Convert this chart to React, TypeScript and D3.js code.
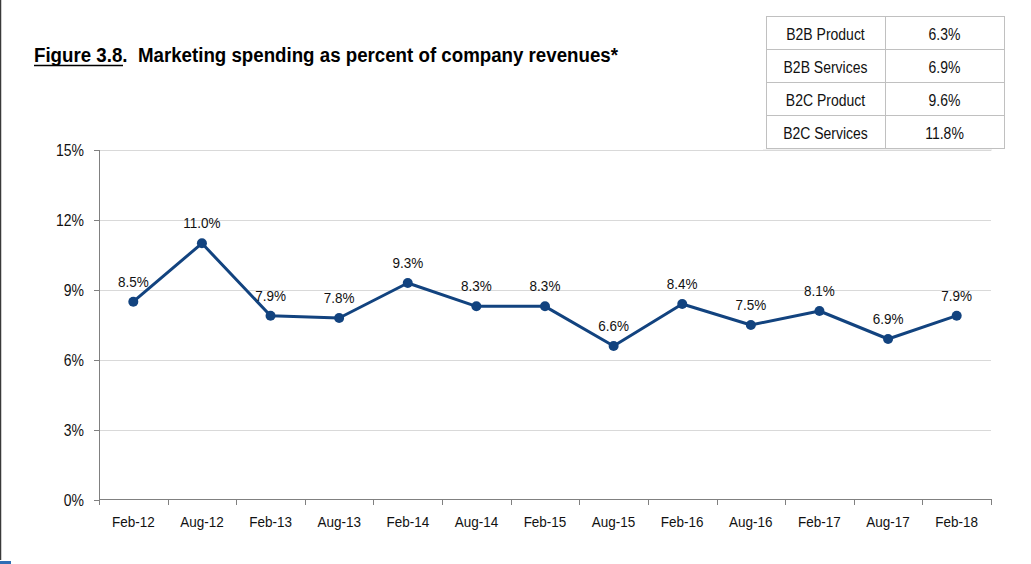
import React from "react";
import * as d3 from "d3";

const categories = ["Feb-12", "Aug-12", "Feb-13", "Aug-13", "Feb-14", "Aug-14", "Feb-15", "Aug-15", "Feb-16", "Aug-16", "Feb-17", "Aug-17", "Feb-18"];
const values = [8.5, 11.0, 7.9, 7.8, 9.3, 8.3, 8.3, 6.6, 8.4, 7.5, 8.1, 6.9, 7.9];
const yTicks = [0, 3, 6, 9, 12, 15];
const tableLabels = ["B2B Product", "B2B Services", "B2C Product", "B2C Services"];
const tableValues = ["6.3%", "6.9%", "9.6%", "11.8%"];
const titleText = "Figure 3.8.  Marketing spending as percent of company revenues*";

const W = 1031;
const H = 564;
const left = 99;
const right = 991;
const top = 150;
const bottom = 500;
const lineColor = "#12437f";
const font = "Arial, 'Liberation Sans', sans-serif";

function T({ x, y, size = 13.5, anchor = "middle", sy = 1.13, children }: any) {
  return (
    <text transform={`translate(${x},${y}) scale(1,${sy})`} fontSize={size} textAnchor={anchor} fill="#111">
      {children}
    </text>
  );
}

export default function App() {
  const x = d3.scaleBand<string>().domain(categories).range([left, right]);
  const y = d3.scaleLinear().domain([0, 15]).range([bottom, top]);
  const cx = (c: string) => (x(c) as number) + x.bandwidth() / 2;
  const line = d3
    .line<number>()
    .x((_, i) => cx(categories[i]))
    .y((d) => y(d));

  const tx0 = 766, tx1 = 885, tx2 = 1004, ty0 = 16, rowH = 33;

  return (
    <svg width={W} height={H} style={{ position: "absolute", left: 0, top: 0, display: "block" }} fontFamily={font}>
      <rect x={0} y={0} width={W} height={H} fill="#ffffff" />
      {/* left page border */}
      <line x1={0.5} y1={0} x2={0.5} y2={560} stroke="#3a3a3a" strokeWidth={1.5} />
      <rect x={0} y={561} width={11} height={3} fill="#2e6db5" />

      {/* title */}
      <text x={34} y={62} fontSize={19.5} fontWeight="bold" fill="#000" textLength={584} lengthAdjust="spacingAndGlyphs" style={{ whiteSpace: "pre" }}>
        {titleText}
      </text>
      <line x1={34} y1={65.5} x2={123} y2={65.5} stroke="#000" strokeWidth={1.3} />

      {/* table */}
      <g>
        <rect x={763} y={149.5} width={229} height={1} fill="#e3e3e3" />
        {tableLabels.map((lab, i) => (
          <g key={lab}>
            <rect x={tx0 + 0.5} y={ty0 + i * rowH + 0.5} width={tx1 - tx0} height={rowH} fill="#fff" stroke="#c0c0c0" />
            <rect x={tx1 + 0.5} y={ty0 + i * rowH + 0.5} width={tx2 - tx1} height={rowH} fill="#fff" stroke="#c0c0c0" />
            <T x={(tx0 + tx1) / 2} y={ty0 + i * rowH + rowH / 2 + 7} size={14}>{lab}</T>
            <T x={(tx1 + tx2) / 2} y={ty0 + i * rowH + rowH / 2 + 7} size={14}>{tableValues[i]}</T>
          </g>
        ))}
      </g>

      {/* gridlines */}
      {yTicks.filter((t) => t > 0).map((t) => (
        <line key={t} x1={left} x2={right} y1={Math.round(y(t)) + 0.5} y2={Math.round(y(t)) + 0.5} stroke="#d9d9d9" />
      ))}

      {/* y axis */}
      <line x1={left + 0.5} x2={left + 0.5} y1={top} y2={bottom} stroke="#808080" />
      {yTicks.map((t) => (
        <g key={t}>
          <line x1={left - 5} x2={left} y1={Math.round(y(t)) + 0.5} y2={Math.round(y(t)) + 0.5} stroke="#808080" />
          <T x={84} y={y(t) + 5.5} size={14} anchor="end">{t}%</T>
        </g>
      ))}

      {/* x axis */}
      <line x1={left} x2={right + 1} y1={bottom - 0.5} y2={bottom - 0.5} stroke="#808080" />
      {[...categories.map((c) => x(c) as number), right].map((p, i) => (
        <line key={i} x1={Math.round(p) + 0.5} x2={Math.round(p) + 0.5} y1={bottom} y2={bottom + 5} stroke="#808080" />
      ))}
      {categories.map((c) => (
        <T key={c} x={cx(c)} y={527}>{c}</T>
      ))}

      {/* series */}
      <path d={line(values) || ""} fill="none" stroke={lineColor} strokeWidth={3} strokeLinejoin="round" />
      {values.map((v, i) => (
        <circle key={i} cx={cx(categories[i])} cy={y(v)} r={5} fill={lineColor} />
      ))}
      {values.map((v, i) => (
        <T key={"l" + i} x={cx(categories[i])} y={y(v) - 15}>
          {v.toFixed(1)}%
        </T>
      ))}
    </svg>
  );
}
